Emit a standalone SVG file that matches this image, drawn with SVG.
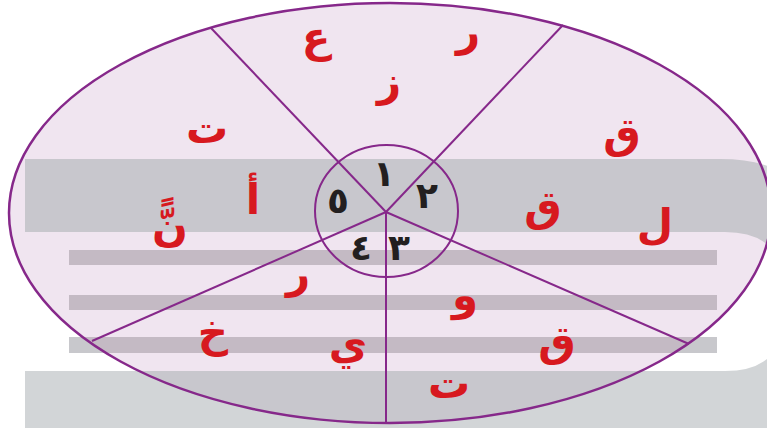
<svg xmlns="http://www.w3.org/2000/svg" width="767" height="428" viewBox="0 0 767 428">
<defs>
<clipPath id="clipE"><ellipse cx="390" cy="213" rx="381" ry="210"/></clipPath>
<path id="bandShape" fill-rule="evenodd" d="M25,159 H720 Q790,159 800,200 V428 H25 Z M25,232 H725 Q785,232 785,292 V312 Q785,371 725,371 H25 Z"/>
</defs>
<style>
.lt{font-family:"DejaVu Sans",sans-serif;font-weight:bold;fill:#d7191f;text-anchor:middle;font-size:42px}
.num{font-family:"DejaVu Sans",sans-serif;font-weight:bold;fill:#231f20;text-anchor:middle;font-size:36px}
.ln{stroke:#86288a;stroke-width:2;fill:none}
</style>
<rect width="767" height="428" fill="#ffffff"/>
<g id="background">
<use href="#bandShape" fill="#d2d5d7"/>
<g fill="#c8c8cc">
<rect x="69" y="250" width="648" height="15"/>
<rect x="69" y="295" width="648" height="15"/>
<rect x="69" y="337" width="648" height="16"/>
</g>
</g>
<g id="disc">
<ellipse cx="390" cy="213" rx="381" ry="210" fill="#f0e5f0"/>
<g clip-path="url(#clipE)">
<use href="#bandShape" fill="#c8c7cd"/>
<g fill="#c4bac4">
<rect x="69" y="250" width="648" height="15"/>
<rect x="69" y="295" width="648" height="15"/>
<rect x="69" y="337" width="648" height="16"/>
</g>
</g>
<ellipse cx="390" cy="213" rx="381" ry="210" fill="none" stroke="#86288a" stroke-width="2.5"/>
</g>
<g id="connectors" class="ln">
<line x1="386" y1="212" x2="211" y2="28"/>
<line x1="386" y1="212" x2="563" y2="25"/>
<line x1="386" y1="212" x2="92" y2="341"/>
<line x1="386" y1="212" x2="689" y2="344"/>
<line x1="386" y1="212" x2="386" y2="423"/>
</g>
<g id="center">
<ellipse cx="386.5" cy="211" rx="71.5" ry="66" fill="none" stroke="#86288a" stroke-width="2"/>
<text class="num" x="384" y="186">١</text>
<text class="num" x="427" y="208">٢</text>
<text class="num" x="399" y="260">٣</text>
<text class="num" x="361" y="260">٤</text>
<text class="num" x="338" y="213">٥</text>
</g>
<g id="letters">
<text class="lt" x="316" y="52">ع</text>
<text class="lt" x="468" y="46">ر</text>
<text class="lt" x="389" y="96">ز</text>
<text class="lt" x="207" y="143">ت</text>
<text class="lt" x="622" y="148">ق</text>
<text class="lt" x="253" y="214">أ</text>
<text class="lt" x="170" y="241">نًّ</text>
<text class="lt" x="543" y="221">ق</text>
<text class="lt" x="655" y="239">ل</text>
<text class="lt" x="298" y="288">ر</text>
<text class="lt" x="465" y="310">و</text>
<text class="lt" x="213" y="347">خ</text>
<text class="lt" x="348" y="359">ي</text>
<text class="lt" x="557" y="356">ق</text>
<text class="lt" x="449" y="398">ت</text>
</g>
</svg>
